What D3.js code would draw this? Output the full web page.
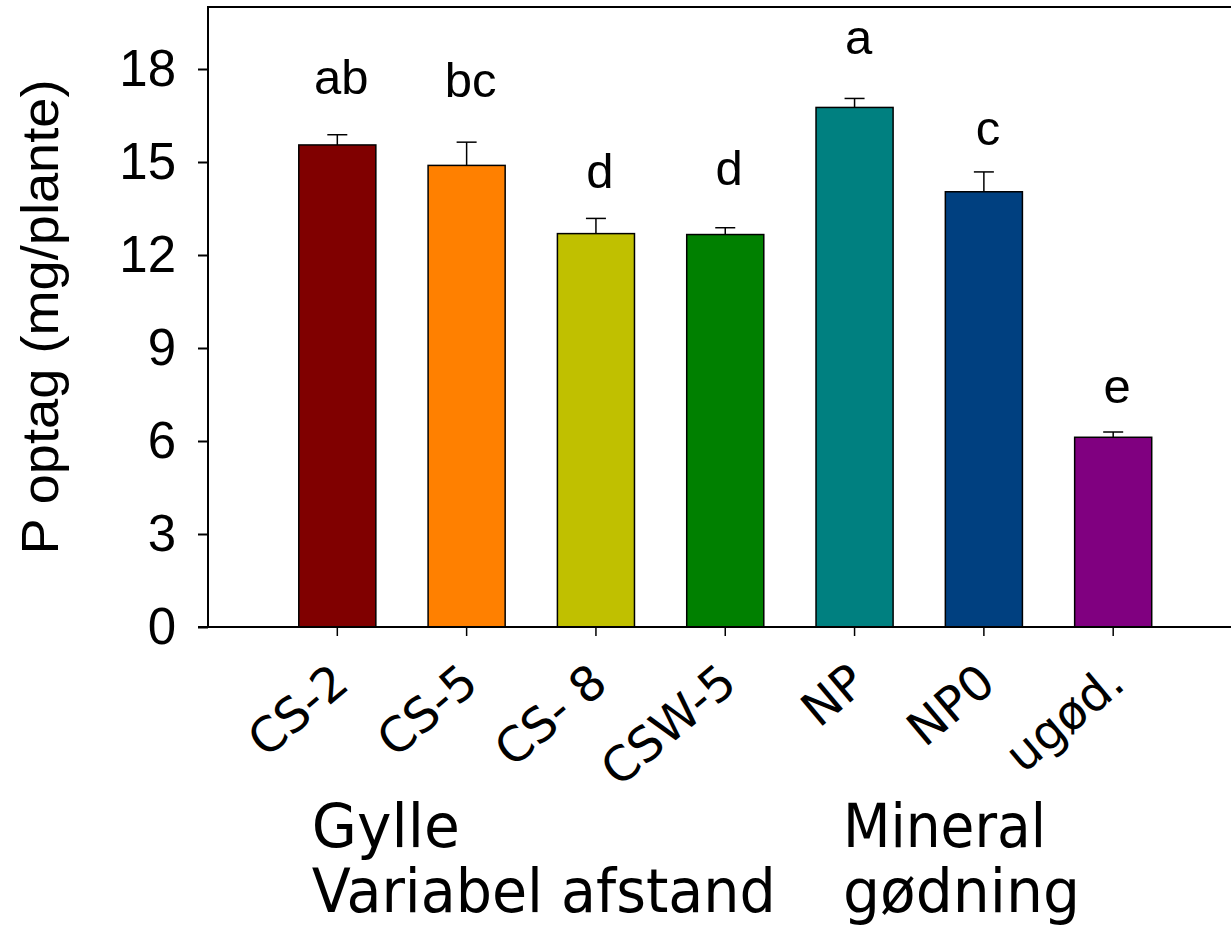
<!DOCTYPE html>
<html>
<head>
<meta charset="utf-8">
<script src="https://cdn.jsdelivr.net/npm/d3@7"></script>
<style>
  html, body { margin: 0; padding: 0; background: #fff; }
  svg { display: block; }
</style>
</head>
<body>
<svg id="chart" width="1231" height="931"></svg>
<script>
// ---- data ----
const categories = ["CS-2", "CS-5", "CS- 8", "CSW-5", "NP", "NP0", "ugød."];
const means      = [15.55, 14.89, 12.69, 12.66, 16.76, 14.04, 6.12];
const errors     = [0.33, 0.75, 0.49, 0.22, 0.29, 0.64, 0.17];
const letters    = ["ab", "bc", "d", "d", "a", "c", "e"];
const letterY    = [17.19, 17.09, 14.16, 14.26, 18.48, 15.55, 7.23];
const colors     = ["#800000", "#FF8000", "#C0C000", "#008000", "#008080", "#004080", "#800080"];
const yTicks     = [0, 3, 6, 9, 12, 15, 18];
const yLabel     = "P optag (mg/plante)";
const groupLines1 = ["Gylle", "Variabel afstand"];
const groupLines2 = ["Mineral", "gødning"];

(function () {
// ---- layout ----
const svg = d3.select("#chart");
const mLeft = 208, mTop = 7, mBottom = 627, rightEnd = 1242.5;
const step = (rightEnd - mLeft) / 8;

const x = d3.scaleBand()
  .domain(categories)
  .range([mLeft + step / 2, rightEnd - step / 2])
  .paddingInner(0.404)
  .paddingOuter(0.202);

const y = d3.scaleLinear().domain([0, 20]).range([mBottom, mTop]);

const data = categories.map((c, i) => ({
  cat: c, mean: means[i], err: errors[i], letter: letters[i], ly: letterY[i], color: colors[i]
}));

// frame
svg.append("line").attr("x1", mLeft).attr("x2", mLeft).attr("y1", y(20) - 1).attr("y2", mBottom)
  .attr("stroke", "#000").attr("stroke-width", 2);
svg.append("line").attr("x1", mLeft).attr("x2", 1231).attr("y1", y(20)).attr("y2", y(20))
  .attr("stroke", "#000").attr("stroke-width", 2);

// bars
svg.append("g").selectAll("rect").data(data).join("rect")
  .attr("x", d => x(d.cat))
  .attr("y", d => y(d.mean))
  .attr("width", x.bandwidth())
  .attr("height", d => y(0) - y(d.mean))
  .attr("fill", d => d.color)
  .attr("stroke", "#000")
  .attr("stroke-width", 1.5);

// error bars (upper only)
const eb = svg.append("g").attr("stroke", "#000").attr("stroke-width", 1.5);
eb.selectAll("line.v").data(data).join("line").attr("class", "v")
  .attr("x1", d => x(d.cat) + x.bandwidth() / 2)
  .attr("x2", d => x(d.cat) + x.bandwidth() / 2)
  .attr("y1", d => y(d.mean))
  .attr("y2", d => y(d.mean + d.err));
eb.selectAll("line.c").data(data).join("line").attr("class", "c")
  .attr("x1", d => x(d.cat) + x.bandwidth() / 2 - 10)
  .attr("x2", d => x(d.cat) + x.bandwidth() / 2 + 10)
  .attr("y1", d => y(d.mean + d.err))
  .attr("y2", d => y(d.mean + d.err));

// significance letters
svg.append("g").selectAll("text").data(data).join("text")
  .attr("x", d => x(d.cat) + x.bandwidth() / 2 + 4)
  .attr("y", d => y(d.ly))
  .attr("text-anchor", "middle")
  .attr("font-family", "'Liberation Sans', Arial, sans-serif")
  .attr("font-size", 49)
  .attr("fill", "#000")
  .text(d => d.letter);

// y axis
const yAxis = d3.axisLeft(y).tickValues(yTicks).tickSize(10).tickPadding(22).tickFormat(d3.format("d"));
const gy = svg.append("g").attr("transform", `translate(${mLeft},0)`).call(yAxis);
gy.select(".domain").remove();
gy.selectAll(".tick line").attr("stroke", "#000").attr("stroke-width", 2);
gy.selectAll(".tick text")
  .attr("font-family", "'Liberation Sans', Arial, sans-serif")
  .attr("font-size", 51)
  .attr("fill", "#000");

// x axis
const xAxis = d3.axisBottom(x).tickSize(9).tickFormat("");
const gx = svg.append("g").attr("transform", `translate(0,${mBottom})`).call(xAxis);
gx.select(".domain").remove();
gx.selectAll(".tick line").attr("stroke", "#000").attr("stroke-width", 1.5);
svg.append("line").attr("x1", mLeft - 10).attr("x2", 1231).attr("y1", mBottom).attr("y2", mBottom)
  .attr("stroke", "#000").attr("stroke-width", 2);

// x tick labels (rotated)
svg.append("g").selectAll("text").data(categories).join("text")
  .attr("transform", d => `translate(${x(d) + x.bandwidth() / 2 + 14},${mBottom + 60}) rotate(-40)`)
  .attr("text-anchor", "end")
  .attr("font-family", "'DejaVu Sans', sans-serif")
  .attr("font-size", 48)
  .attr("fill", "#000")
  .text(d => d);

// y axis title
svg.append("text")
  .attr("transform", `translate(58,${(y(0) + y(20)) / 2}) rotate(-90)`)
  .attr("text-anchor", "middle")
  .attr("font-family", "'Liberation Sans', Arial, sans-serif")
  .attr("font-size", 52)
  .attr("textLength", 475)
  .attr("lengthAdjust", "spacingAndGlyphs")
  .attr("fill", "#000")
  .text(yLabel);

// group labels
const groups = [
  {lines: groupLines1, widths: [148, 464], x0: x(categories[0]) + 13},
  {lines: groupLines2, widths: [203, 237], x0: x(categories[4]) + 27}
];
groups.forEach(g => {
  g.lines.forEach((line, li) => {
    svg.append("text")
      .attr("x", g.x0)
      .attr("y", 847 + li * 65)
      .attr("font-family", "'DejaVu Sans', sans-serif")
      .attr("font-size", 60)
      .attr("textLength", g.widths[li])
      .attr("lengthAdjust", "spacingAndGlyphs")
      .attr("fill", "#000")
      .text(line);
  });
});
})();
</script>
</body>
</html>
